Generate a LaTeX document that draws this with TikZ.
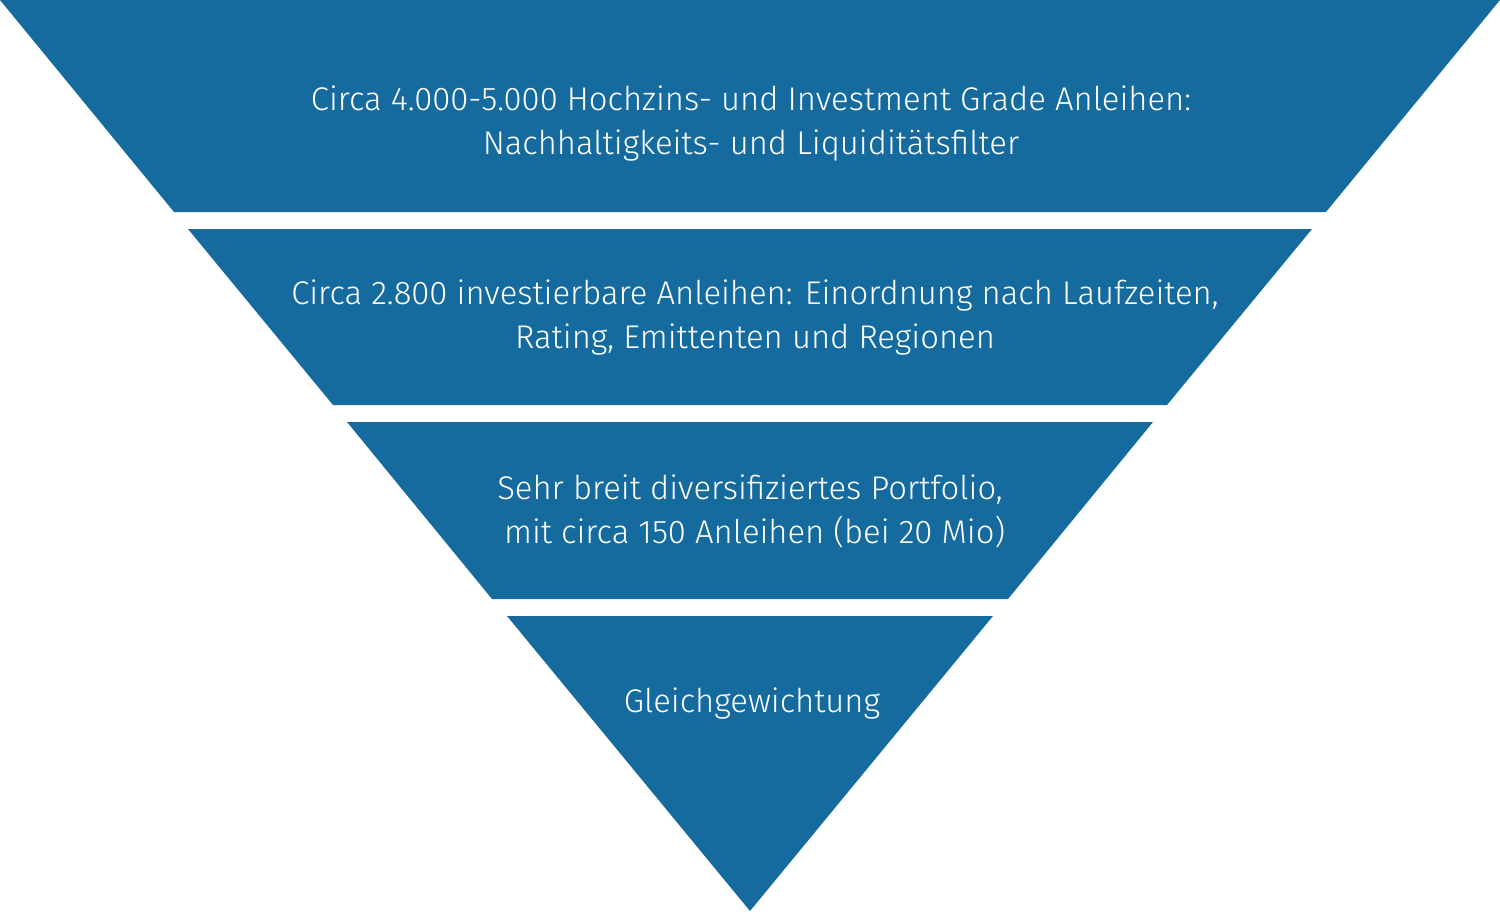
\documentclass[tikz,border=0pt]{standalone}
\usepackage{fontspec}
\setmainfont{Fira Sans}[UprightFont=* Light]
\definecolor{funnel}{HTML}{166B9E}
\tikzset{
  seg/.style={fill=funnel, draw=none},
  lbl/.style={text=white, align=center, font=\fontsize{32.8}{44}\selectfont, inner sep=0pt}
}
\begin{document}
\begin{tikzpicture}[x=1pt,y=-1pt]
\useasboundingbox (0,0) rectangle (1500,911);
\fill[seg] (0,0) -- (1500,0) -- (1326,212) -- (174,212) -- cycle;
\fill[seg] (188,229) -- (1312,229) -- (1167,405) -- (333,405) -- cycle;
\fill[seg] (347,422) -- (1153,422) -- (1008,599) -- (492,599) -- cycle;
\fill[seg] (507,616) -- (993,616) -- (750,911) -- cycle;
\node[lbl] (t1) at (751,124) {Circa 4.000-5.000 Hochzins- und Investment Grade Anleihen:\\Nachhaltigkeits- und Liquiditätsfilter};
\node[lbl] (t2) at (755,318) {Circa 2.800 investierbare Anleihen: Einordnung nach Laufzeiten,\\Rating, Emittenten und Regionen};
\node[lbl] (t3) at (750,511) {Sehr breit diversifiziertes Portfolio,\\\ mit circa 150 Anleihen (bei 20 Mio)};
\node[lbl] (t4) at (752,704) {Gleichgewichtung};
\end{tikzpicture}
\end{document}
